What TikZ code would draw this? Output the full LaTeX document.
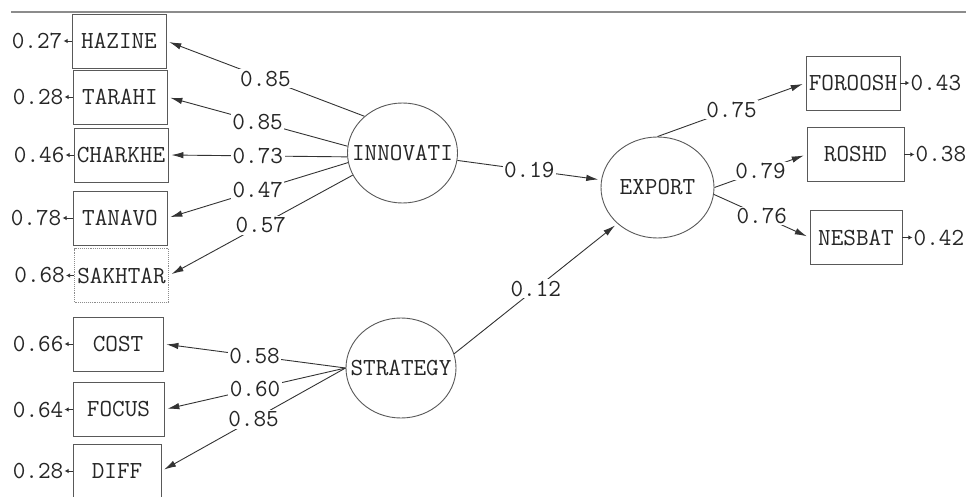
\documentclass[tikz,border=0pt]{standalone}
\usepackage{tikz}
\usetikzlibrary{positioning,shapes.geometric,arrows.meta}
\tikzset{
  ind/.style={draw=black!65,line width=0.9pt,rectangle,minimum width=94pt,minimum height=54pt,inner sep=1pt},
  lat/.style={draw=black!65,line width=0.9pt,ellipse,minimum width=110pt,minimum height=100pt,inner sep=0pt},
  lbl/.style={fill=white,inner sep=1.5pt},
  err/.style={inner sep=1pt},
  coef/.style={draw=black!80,line width=0.9pt,-{Latex[length=12pt,width=6.5pt]},shorten >=3pt},
  errline/.style={draw=black!80,line width=0.9pt,-{Latex[length=4pt,width=4.5pt]}}
}
\begin{document}
\begin{tikzpicture}[x=1pt,y=-1pt,every node/.style={font=\ttfamily\fontsize{24.5}{28}\selectfont,text=black!85}]
    \useasboundingbox (0,0) rectangle (966,497);
    \draw[black!45,line width=1.5pt] (11,12) -- (966,12);
    \node[ind] (hazine) at (119,41) {HAZINE};
    \node[ind] (tarahi) at (120,97) {TARAHI};
    \node[ind] (charkhe) at (121,155) {CHARKHE};
    \node[ind] (tanavo) at (120,218) {TANAVO};
    \node[ind,draw=black!45,densely dotted] (sakhtar) at (121.5,275.5) {SAKHTAR};
    \node[ind,minimum width=90pt] (cost) at (118,344) {COST};
    \node[ind,minimum width=91pt] (focus) at (118.5,409.5) {FOCUS};
    \node[ind,minimum width=88pt] (diff) at (117,471) {DIFF};
    \node[lat] (innovati) at (402.5,153) {\makebox[0pt]{INNOVATI}};
    \node[lat] (strategy) at (401,368) {\makebox[0pt]{STRATEGY}};
    \node[lat,minimum width=113pt,minimum height=101pt] (export) at (657.5,187.5) {\makebox[0pt]{EXPORT}};
    \node[ind] (foroosh) at (853,83) {FOROOSH};
    \node[ind,minimum width=97pt] (roshd) at (855.5,154.5) {ROSHD};
    \node[ind,minimum width=92pt] (nesbat) at (856,237.5) {NESBAT};
    \node[err,left=8pt of hazine] (e1) {0.27};
    \node[err,left=8pt of tarahi] (e2) {0.28};
    \node[err,left=8pt of charkhe] (e3) {0.46};
    \node[err,left=10pt of tanavo] (e4) {0.78};
    \node[err,left=8pt of sakhtar] (e5) {0.68};
    \node[err,left=8pt of cost] (e6) {0.66};
    \node[err,left=8pt of focus] (e7) {0.64};
    \node[err,left=8pt of diff] (e8) {0.28};
    \node[err,right=9pt of foroosh] (e9) {0.43};
    \node[err,right=10pt of roshd] (e10) {0.38};
    \node[err,right=10pt of nesbat] (e11) {0.42};
    \draw[coef] (innovati.136) -- node[lbl] {0.85} (hazine.east);
    \draw[coef] (innovati.173) -- node[lbl] {0.85} (tarahi.east);
    \draw[coef] (innovati.184) -- node[lbl] {0.73} (charkhe.east);
    \draw[coef] (innovati.190) -- node[lbl] {0.47} (tanavo.east);
    \draw[coef] (innovati.204) -- node[lbl] {0.57} (sakhtar.east);
    \draw[coef] (strategy.west) -- node[lbl] {0.58} (cost.east);
    \draw[coef] (strategy.west) -- node[lbl] {0.60} (focus.east);
    \draw[coef] (strategy.west) -- node[lbl] {0.85} (diff.east);
    \draw[coef] (innovati) -- node[lbl] {0.19} (export);
    \draw[coef] (strategy.15) -- node[lbl] {0.12} (export.222);
    \draw[coef] (export.north) -- node[lbl] {0.75} (foroosh.west);
    \draw[coef] (export.east) -- node[lbl] {0.79} (roshd.west);
    \draw[coef] (export.-7) -- node[lbl] {0.76} (nesbat.west);
    \draw[errline] (hazine.west) -- (e1.east);
    \draw[errline] (tarahi.west) -- (e2.east);
    \draw[errline] (charkhe.west) -- (e3.east);
    \draw[errline] (tanavo.west) -- (e4.east);
    \draw[errline] (sakhtar.west) -- (e5.east);
    \draw[errline] (cost.west) -- (e6.east);
    \draw[errline] (focus.west) -- (e7.east);
    \draw[errline] (diff.west) -- (e8.east);
    \draw[errline] (foroosh.east) -- (e9.west);
    \draw[errline] (roshd.east) -- (e10.west);
    \draw[errline] (nesbat.east) -- (e11.west);
\end{tikzpicture}
\end{document}
